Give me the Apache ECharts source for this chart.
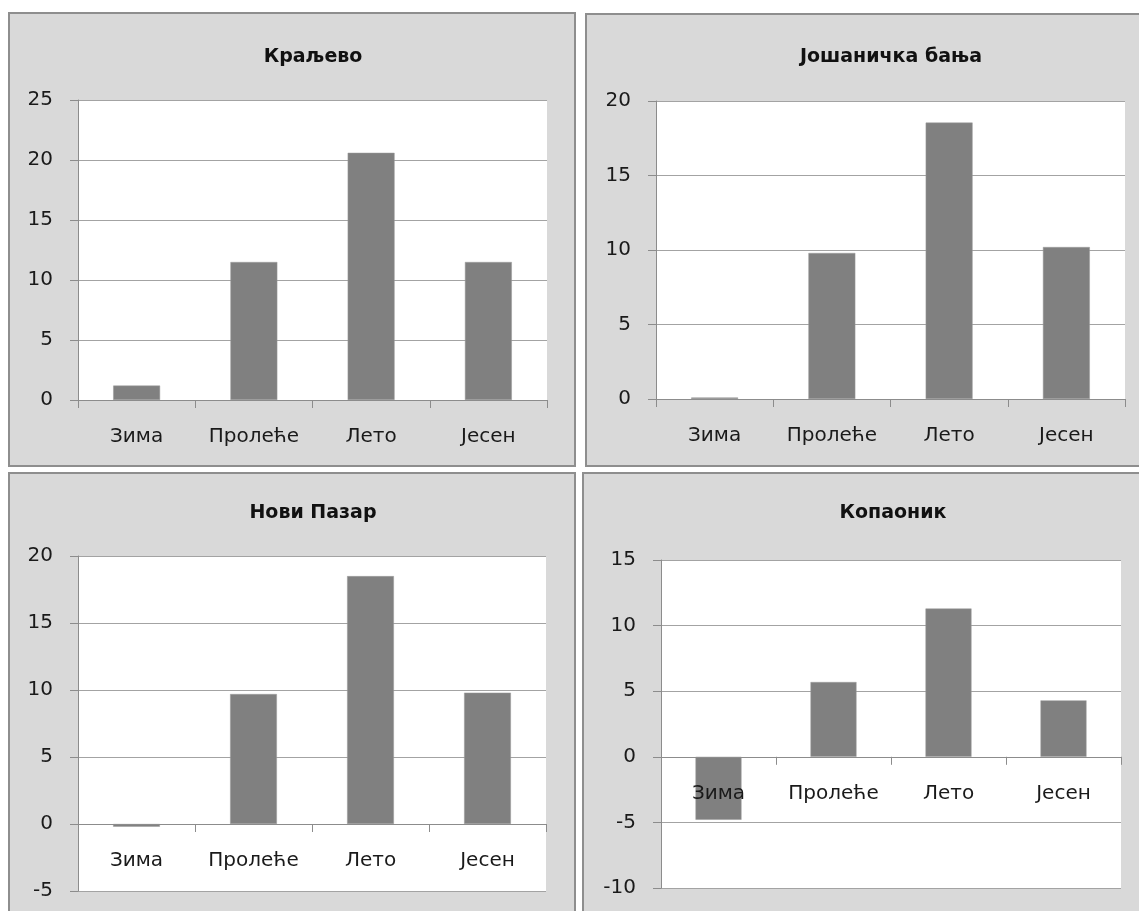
<!DOCTYPE html>
<html>
<head>
<meta charset="utf-8">
<script src="https://cdn.jsdelivr.net/npm/echarts@6/dist/echarts.min.js"></script>
<style>
  html, body { margin: 0; padding: 0; background: #ffffff; }
  #chart { width: 1139px; height: 911px; }
</style>
</head>
<body>
<div id="chart"></div>
<script>
// Seasonal mean temperatures (°C) at four stations
const seasons = ['Зима', 'Пролеће', 'Лето', 'Јесен'];
const stations = ['Краљево', 'Јошаничка бања', 'Нови Пазар', 'Копаоник'];
const kraljevo = [1.2, 11.5, 20.6, 11.5];
const josanickaBanja = [0.1, 9.8, 18.55, 10.2];
const noviPazar = [-0.2, 9.7, 18.5, 9.8];
const kopaonik = [-4.8, 5.7, 11.3, 4.3];
// value-axis ranges per station: [min, max, step]
const kraljevoAxis = [0, 25, 5];
const josanickaAxis = [0, 20, 5];
const noviPazarAxis = [-5, 20, 5];
const kopaonikAxis = [-10, 15, 5];

const FONT = 'DejaVu Sans';
const GRID_LINE = '#a3a3a3';
const AXIS_LINE = '#8c8c8c';
const BAR = '#808080';
const PANEL_BG = '#d9d9d9';
const PANEL_EDGE = '#8e8e8e';

const values = [kraljevo, josanickaBanja, noviPazar, kopaonik];
const axes = [kraljevoAxis, josanickaAxis, noviPazarAxis, kopaonikAxis];

// panel frames and plot rectangles
const panels = [
  { x: 9, y: 13, w: 566, h: 453 },
  { x: 586, y: 14, w: 560, h: 452 },
  { x: 9, y: 473, w: 566, h: 445 },
  { x: 583, y: 473, w: 563, h: 445 }
];
const grids = [
  { left: 78, top: 100, width: 469, height: 300 },
  { left: 656, top: 101, width: 469, height: 298 },
  { left: 78, top: 556, width: 468, height: 335 },
  { left: 661, top: 560, width: 460, height: 328 }
];
const titlePos = [
  { x: 308, y: 52 },
  { x: 886, y: 52 },
  { x: 308, y: 508 },
  { x: 888, y: 508 }
];

// category axis sits on the zero line of the value scale
function zeroOffset(i) {
  const a = axes[i];
  if (a[0] >= 0) return 0;
  return -grids[i].height * (0 - a[0]) / (a[1] - a[0]);
}

const option = {
  animation: false,
  backgroundColor: '#ffffff',
  graphic: panels.map(p => ({
    type: 'rect',
    z: -10,
    shape: { x: p.x, y: p.y, width: p.w, height: p.h },
    style: { fill: PANEL_BG, stroke: PANEL_EDGE, lineWidth: 2 }
  })),
  title: stations.map((name, i) => ({
    text: name,
    left: titlePos[i].x,
    top: titlePos[i].y,
    textAlign: 'center',
    textVerticalAlign: 'middle',
    textStyle: { fontFamily: FONT, fontWeight: 'bold', fontSize: 19, color: '#111111' }
  })),
  grid: grids.map(g => ({
    left: g.left, top: g.top, width: g.width, height: g.height,
    show: true, backgroundColor: '#ffffff', borderWidth: 0, containLabel: false
  })),
  xAxis: grids.map((g, i) => ({
    type: 'category',
    gridIndex: i,
    data: seasons,
    position: 'bottom',
    offset: zeroOffset(i),
    z: 5,
    axisLine: { show: true, onZero: false, lineStyle: { color: AXIS_LINE, width: 1 } },
    axisTick: { show: true, interval: 0, length: 8, lineStyle: { color: AXIS_LINE } },
    axisLabel: { interval: 0, hideOverlap: false, margin: 27, fontFamily: FONT, fontSize: 20, color: '#1a1a1a' },
    splitLine: { show: false }
  })),
  yAxis: axes.map((a, i) => ({
    type: 'value',
    gridIndex: i,
    min: a[0], max: a[1], interval: a[2],
    axisLine: { show: true, lineStyle: { color: AXIS_LINE, width: 1 } },
    axisTick: { show: true, length: 8, lineStyle: { color: AXIS_LINE } },
    axisLabel: { margin: 25, fontFamily: FONT, fontSize: 20, color: '#1a1a1a' },
    splitLine: { show: true, lineStyle: { color: GRID_LINE, width: 1 } }
  })),
  series: values.map((v, i) => ({
    type: 'bar',
    xAxisIndex: i,
    yAxisIndex: i,
    data: v,
    barWidth: '40%',
    itemStyle: { color: BAR, borderColor: '#9a9a9a', borderWidth: 0.5 }
  }))
};

const chart = echarts.init(document.getElementById('chart'), null, { renderer: 'canvas' });
chart.setOption(option);
</script>
</body>
</html>
